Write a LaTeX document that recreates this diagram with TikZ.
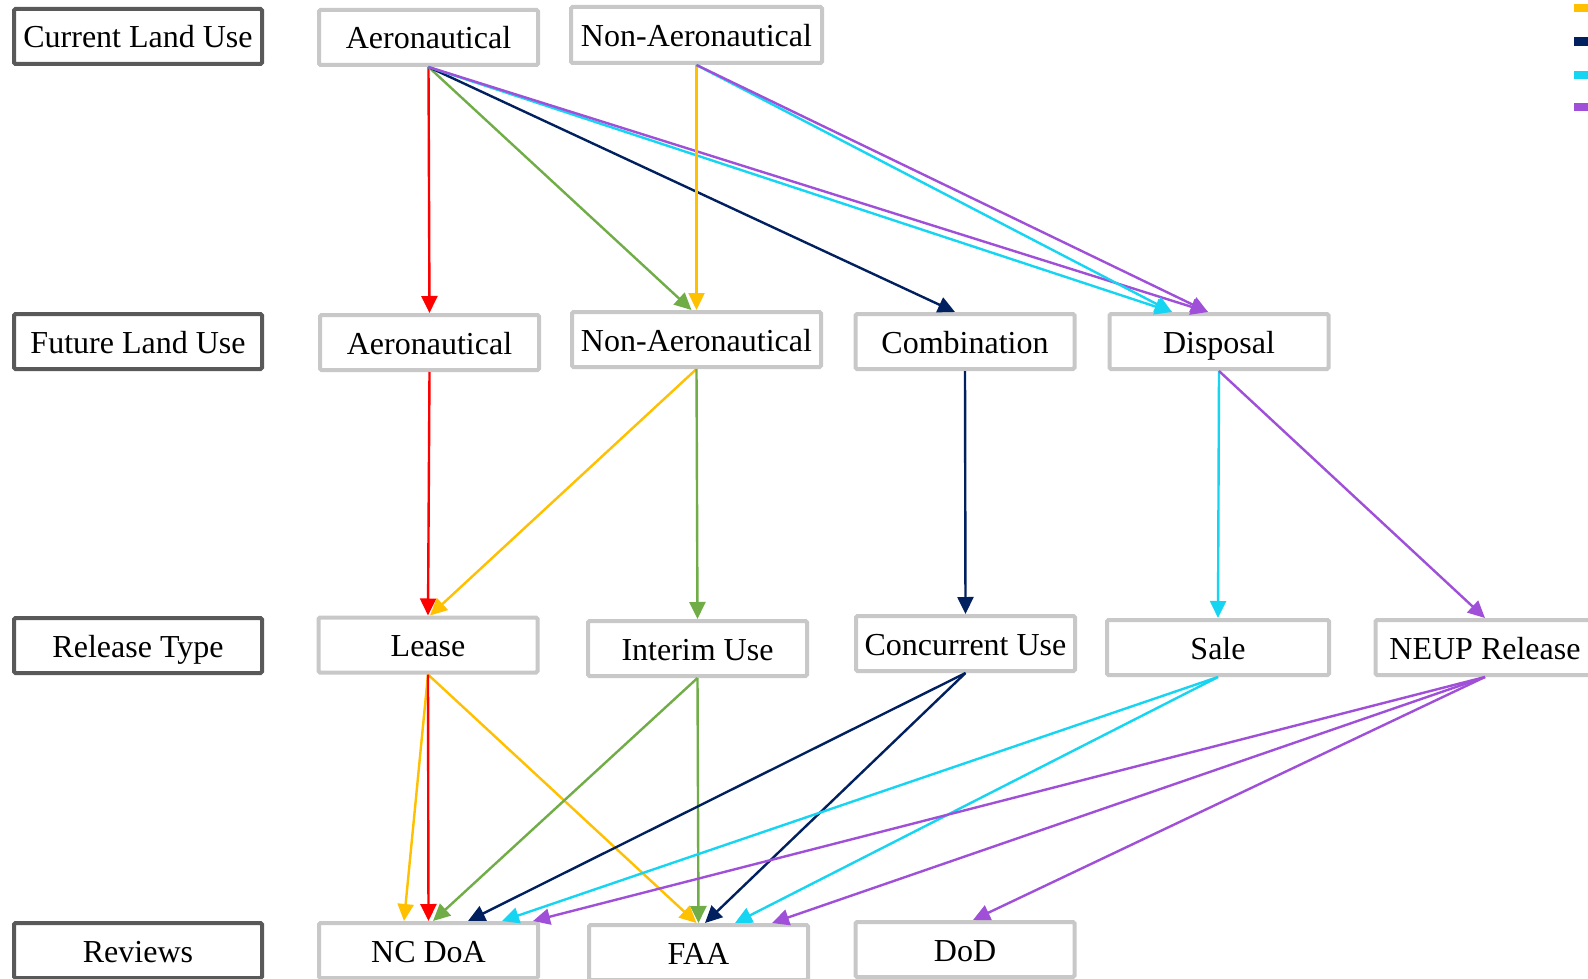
\documentclass[tikz,border=0pt]{standalone}
\usepackage{fontspec}
\setmainfont{Liberation Serif}
\usetikzlibrary{arrows.meta}
\definecolor{cred}{HTML}{FF0000}
\definecolor{cgreen}{HTML}{70AD47}
\definecolor{cnavy}{HTML}{002060}
\definecolor{ccyan}{HTML}{15D5F2}
\definecolor{cpurple}{HTML}{9F4FD8}
\definecolor{cyellow}{HTML}{FFC000}
\definecolor{boxgray}{HTML}{C8C8C8}
\definecolor{boxdark}{HTML}{595959}
\begin{document}
\begin{tikzpicture}[x=1pt,y=-1pt,
  gbox/.style={draw=boxgray, line width=4pt, rounded corners=1.5pt, fill=white, inner sep=0pt,
    minimum width=219pt, minimum height=55pt, text height=23pt, text depth=0pt,
    font=\fontsize{32}{36}\selectfont},
  dbox/.style={gbox, draw=boxdark, minimum width=248pt, minimum height=55pt},
  arr/.style={line width=2.4pt, -{Triangle[length=17pt,width=16pt]}},
]
\useasboundingbox (0,0) rectangle (1588,979);
\clip (0,0) rectangle (1588,979);
\fill[white] (0,0) rectangle (1588,979);

% legend swatches (cut off at the right edge)
\fill[cyellow] (1574,4) rectangle (1592,12);
\fill[cnavy] (1574,37) rectangle (1592,46);
\fill[ccyan] (1574,71) rectangle (1592,79);
\fill[cpurple] (1574,103) rectangle (1592,111);

% row labels
\node[dbox] (clu) at (138,36.5) {Current Land Use};
\node[dbox] (flu) at (138,341.5) {Future Land Use};
\node[dbox] (rt) at (138,645.5) {Release Type};
\node[dbox] (rev) at (138,950.5) {Reviews};

% nodes
\node[gbox] (a1) at (428.5,37.5) {Aeronautical};
\node[gbox, minimum width=251pt, minimum height=56pt] (n1) at (696.5,35) {Non-Aeronautical};
\node[gbox] (a2) at (429.5,342.5) {Aeronautical};
\node[gbox, minimum width=249pt] (n2) at (696.5,339.5) {Non-Aeronautical};
\node[gbox] (c2) at (965,341.5) {Combination};
\node[gbox] (d2) at (1219,341.5) {Disposal};
\node[gbox] (l3) at (428,645) {Lease};
\node[gbox] (i3) at (697.5,648.5) {Interim Use};
\node[gbox] (cu3) at (965.5,643.5) {Concurrent Use};
\node[gbox, minimum width=222pt] (s3) at (1218,647.5) {Sale};
\node[gbox] (nr3) at (1485,647.5) {NEUP Release};
\node[gbox] (nc) at (428.5,950.5) {NC DoA};
\node[gbox] (faa) at (698.5,952.5) {FAA};
\node[gbox] (dod) at (965,949.5) {DoD};

% current -> future
\draw[arr, cred] (a1.south) -- (a2.north);
\draw[arr, cgreen] (a1.south) -- ([xshift=-5pt]n2.north);
\draw[arr, cnavy] (a1.south) -- ([xshift=-10pt]c2.north);
\draw[arr, ccyan] (a1.south) -- ([xshift=-47pt]d2.north);
\draw[arr, cpurple] (a1.south) -- ([xshift=-11pt]d2.north);
\draw[arr, cyellow] (n1.south) -- (n2.north);
\draw[arr, ccyan] (n1.south) -- ([xshift=-47pt]d2.north);
\draw[arr, cpurple] (n1.south) -- ([xshift=-11pt]d2.north);

% future -> release type
\draw[arr, cred] (a2.south) -- (l3.north);
\draw[arr, cyellow] (n2.south) -- ([xshift=2pt]l3.north);
\draw[arr, cgreen] (n2.south) -- (i3.north);
\draw[arr, cnavy] (c2.south) -- (cu3.north);
\draw[arr, ccyan] (d2.south) -- (s3.north);
\draw[arr, cpurple] (d2.south) -- (nr3.north);

% release type -> reviews
\draw[arr, cyellow] (l3.south) -- ([xshift=-24.5pt]nc.north);
\draw[arr, cyellow] (l3.south) -- ([xshift=-2pt]faa.north);
\draw[arr, cred] (l3.south) -- (nc.north);
\draw[arr, cgreen] (i3.south) -- ([xshift=4.5pt]nc.north);
\draw[arr, cgreen] (i3.south) -- (faa.north);
\draw[arr, cnavy] (cu3.south) -- ([xshift=39.5pt]nc.north);
\draw[arr, cnavy] (cu3.south) -- ([xshift=6.5pt]faa.north);
\draw[arr, ccyan] (s3.south) -- ([xshift=73.5pt]nc.north);
\draw[arr, ccyan] (s3.south) -- ([xshift=36.5pt]faa.north);
\draw[arr, cpurple] (nr3.south) -- ([xshift=104.5pt]nc.north);
\draw[arr, cpurple] (nr3.south) -- ([xshift=73.5pt]faa.north);
\draw[arr, cpurple] (nr3.south) -- ([xshift=8pt]dod.north);
\end{tikzpicture}
\end{document}
